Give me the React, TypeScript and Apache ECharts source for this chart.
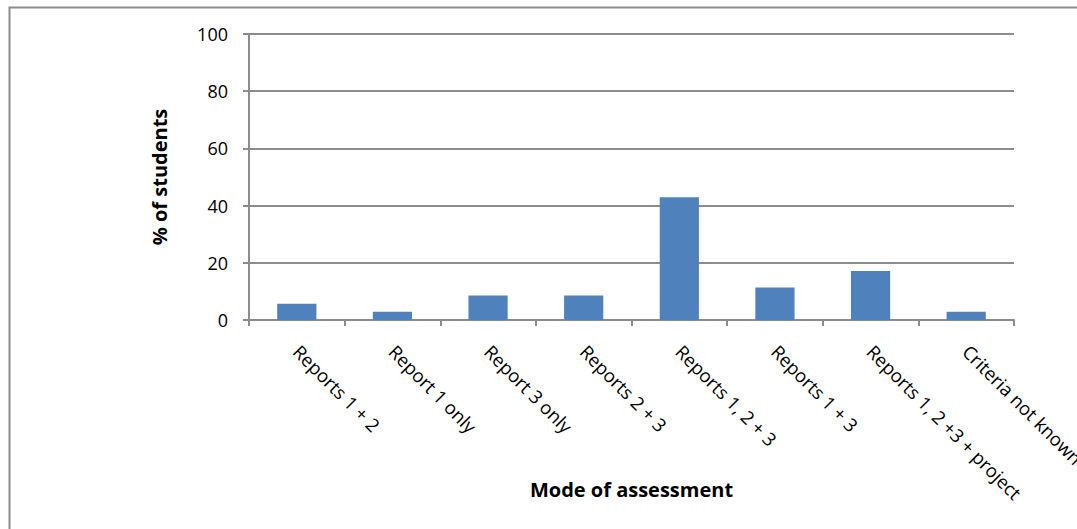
import React, { useEffect, useRef } from "react";
import * as echarts from "echarts";

const categories = [
  "Reports 1 + 2",
  "Report 1 only",
  "Report 3 only",
  "Reports 2 + 3",
  "Reports 1, 2 + 3",
  "Reports 1 + 3",
  "Reports 1, 2 +3 + project",
  "Criteria not known",
];
const values = [5.7, 2.9, 8.6, 8.6, 42.9, 11.4, 17.1, 2.9];
const yTicks = [0, 20, 40, 60, 80, 100];

const FONT = "'Open Sans', 'Noto Sans', sans-serif";

export default function App() {
  const ref = useRef<HTMLDivElement>(null);
  useEffect(() => {
    if (!ref.current) return;
    const chart = echarts.init(ref.current, null, { renderer: "svg" });
    chart.setOption({
      animation: false,
      backgroundColor: "#ffffff",
      grid: {
        left: 249,
        top: 34,
        width: 765,
        height: 286,
        containLabel: false,
        outerBoundsMode: "none",
      },
      graphic: [
        {
          type: "rect",
          shape: { x: 9.5, y: 7.5, width: 1200, height: 700 },
          style: { fill: "none", stroke: "#8c8c8c", lineWidth: 2 },
          silent: true,
        },
      ],
      xAxis: {
        type: "category",
        data: categories,
        name: "Mode of assessment",
        nameLocation: "middle",
        nameGap: 159,
        nameMoveOverlap: false,
        nameTextStyle: { fontFamily: FONT, fontSize: 20, fontWeight: "bold", color: "#000" },
        axisLine: { lineStyle: { color: "#8c8c8c", width: 2 } },
        axisTick: { show: true, length: 6, lineStyle: { color: "#8c8c8c", width: 2 } },
        axisLabel: {
          rotate: -45,
          interval: 0,
          margin: 28,
          fontFamily: FONT,
          fontSize: 18.5,
          color: "#000",
        },
      },
      yAxis: {
        type: "value",
        min: 0,
        max: 100,
        interval: 20,
        name: "% of students",
        nameLocation: "middle",
        nameGap: 80,
        nameRotate: 90,
        nameMoveOverlap: false,
        nameTextStyle: { fontFamily: FONT, fontSize: 20, fontWeight: "bold", color: "#000" },
        axisLine: { show: true, lineStyle: { color: "#8c8c8c", width: 2 } },
        axisTick: { show: true, length: 6, lineStyle: { color: "#8c8c8c", width: 2 } },
        axisLabel: {
          margin: 21,
          fontFamily: FONT,
          fontSize: 18,
          color: "#000",
          formatter: (v: number) => (yTicks.includes(v) ? String(v) : ""),
        },
        splitLine: { show: true, lineStyle: { color: "#8c8c8c", width: 2 } },
      },
      series: [
        {
          type: "bar",
          data: values,
          barWidth: "41%",
          itemStyle: { color: "#4F81BD" },
        },
      ],
    });
    return () => chart.dispose();
  }, []);
  return (
    <div
      ref={ref}
      style={{ position: "fixed", left: 0, top: 0, width: 1077, height: 529 }}
    />
  );
}
